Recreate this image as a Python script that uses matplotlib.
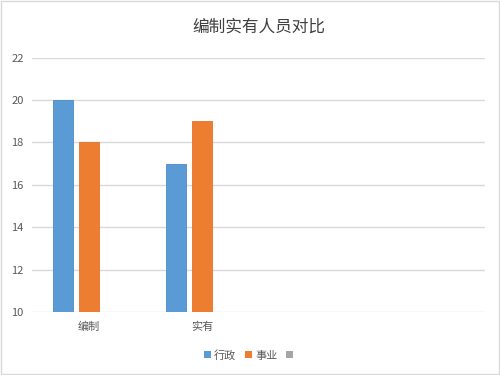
import matplotlib.pyplot as plt
from matplotlib.patches import Patch, Rectangle
import numpy as np

plt.rcParams['font.family'] = ['Noto Sans CJK SC', 'DejaVu Sans']

# --- data ---
categories = ['编制', '实有', '', '']
xingzheng = [20, 17, np.nan, np.nan]
shiye = [18, 19, np.nan, np.nan]
series_names = ['行政', '事业', '']
colors = ['#5b9bd5', '#ed7d31', '#a5a5a5']

fig = plt.figure(figsize=(5, 3.75), dpi=100)
ax = fig.add_axes([0.064, 0.168, 0.906, 0.678])

x = np.arange(len(categories))
width = 0.177
step = 0.226
ax.bar(x - step, xingzheng, width, color=colors[0], edgecolor='#4a8cc8', linewidth=0.6, zorder=3)
ax.bar(x, shiye, width, color=colors[1], edgecolor='#e8702a', linewidth=0.6, zorder=3)

ax.set_xlim(-0.5, len(categories) - 0.5)
ax.set_ylim(10, 22)
ax.set_yticks(np.arange(10, 23, 2))
ax.set_xticks(x)
ax.set_xticklabels(categories)
ax.tick_params(axis='both', length=0, colors='#595959', labelsize=8)
ax.tick_params(axis='y', pad=6)
ax.tick_params(axis='x', pad=7)
ax.grid(axis='y', color='#d9d9d9', linewidth=1, zorder=0)
for s in ax.spines.values():
    s.set_visible(False)

ax.set_title('编制实有人员对比', fontsize=12, color='#404040', pad=19)

handles = [Patch(facecolor=c, edgecolor='none') for c in colors]
fig.legend(handles, series_names, loc='center', bbox_to_anchor=(0.5, 0.053), ncol=3,
           frameon=False, fontsize=8, labelcolor='#595959', handlelength=0.6,
           handleheight=0.6, handletextpad=0.3, columnspacing=0.8)

# light outer border
fig.patches.append(Rectangle((0.002, 0.002), 0.996, 0.995, transform=fig.transFigure,
                             fill=False, edgecolor='#d9d9d9', linewidth=1))

fig.savefig('out.png', dpi=100)
